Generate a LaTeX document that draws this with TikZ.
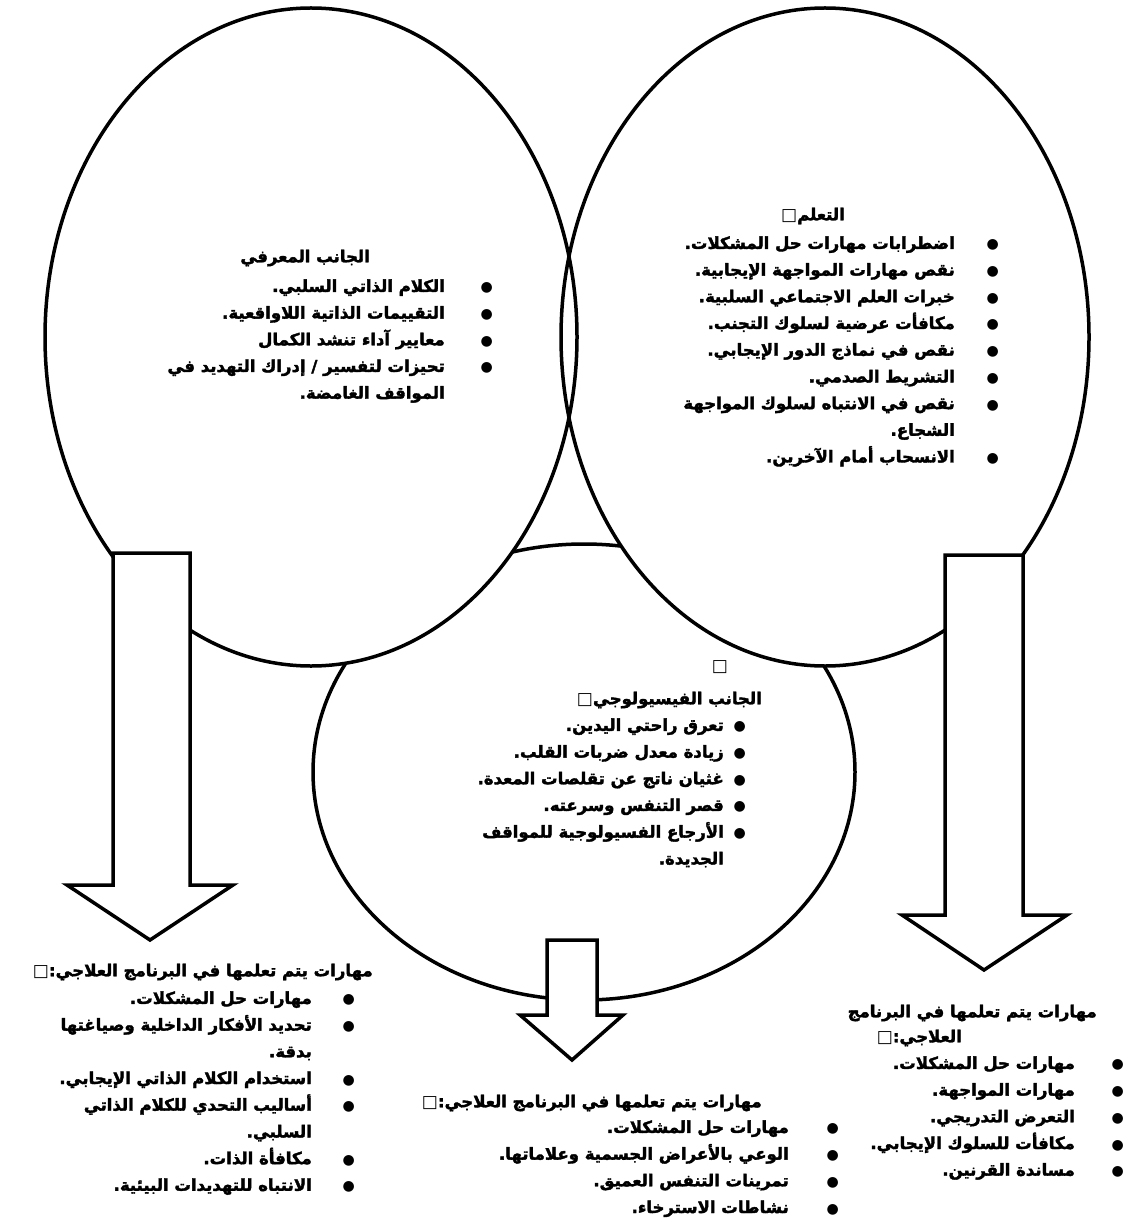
\documentclass[tikz,border=0pt]{standalone}
\usepackage{fontspec}
\TeXXeTstate=1
\newfontfamily\arabicfont[Script=Arabic, BoldFeatures={FakeBold=2.2}]{DejaVu Sans}
\newfontfamily\symfont{DejaVu Sans}
\usetikzlibrary{positioning}

\newcommand{\ar}[1]{\beginR #1\endR}
\newcommand{\tofu}{{\symfont\mdseries\fontsize{17}{27}\selectfont □}}
\newcommand{\dotmark}{\makebox[0pt]{\symfont\fontsize{14}{14}\selectfont ●}}

\begin{document}
\begin{tikzpicture}[x=1pt, y=-1pt,
  outline/.style={draw=black, line width=3.5pt, fill=white},
  txt/.style={font=\arabicfont\bfseries\fontsize{16.5}{26.7}\selectfont, inner sep=0pt},
  list/.style={txt, anchor=north east},
]
\useasboundingbox (0,0) rectangle (1130,1222);

% circles
\draw[outline] (584,772) ellipse [x radius=271, y radius=228];
\fill[white] (311,337) ellipse [x radius=266, y radius=329];
\fill[white] (825,337) ellipse [x radius=264, y radius=329];
\draw[outline, fill=none] (311,337) ellipse [x radius=266, y radius=329];
\draw[outline, fill=none] (825,337) ellipse [x radius=264, y radius=329];

% block arrows
\draw[outline] (113,553) -- (190,553) -- (190,885) -- (233,885) -- (150,940) -- (67,885) -- (113,885) -- cycle;
\draw[outline] (945,555) -- (1023,555) -- (1023,915) -- (1067,915) -- (984,970) -- (902,915) -- (945,915) -- cycle;
\draw[outline] (547,940) -- (597,940) -- (597,1015) -- (623,1015) -- (572,1060) -- (520,1015) -- (547,1015) -- cycle;

% left: cognitive side
\node[txt, anchor=east] (cogtitle) at (370,258) {\ar{الجانب المعرفي}};
\node[list] (coglist) at (487,273) {\begin{tabular}{@{}r@{\hspace{42pt}}l@{}}
\ar{الكلام الذاتي السلبي.} & \dotmark \\
\ar{التقييمات الذاتية اللاواقعية.} & \dotmark \\
\ar{معايير آداء تنشد الكمال} & \dotmark \\
\ar{تحيزات لتفسير / إدراك التهديد في} & \dotmark \\
\ar{المواقف الغامضة.} & \\
\end{tabular}};

% right: learning side
\node[txt, anchor=east] (learntitle) at (845,216) {\tofu\ar{التعلم}};
\node[list] (learnlist) at (993,230) {\begin{tabular}{@{}r@{\hspace{38pt}}l@{}}
\ar{اضطرابات مهارات حل المشكلات.} & \dotmark \\
\ar{نقص مهارات المواجهة الإيجابية.} & \dotmark \\
\ar{خبرات العلم الاجتماعي السلبية.} & \dotmark \\
\ar{مكافأت عرضية لسلوك التجنب.} & \dotmark \\
\ar{نقص في نماذج الدور الإيجابي.} & \dotmark \\
\ar{التشريط الصدمي.} & \dotmark \\
\ar{نقص في الانتباه لسلوك المواجهة} & \dotmark \\
\ar{الشجاع.} & \\
\ar{الانسحاب أمام الآخرين.} & \dotmark \\
\end{tabular}};

% centre: physiological side
\node[txt] (physmark) at (720,667) {\tofu};
\node[txt, anchor=east] (phystitle) at (762,700) {\tofu\ar{الجانب الفيسيولوجي}};
\node[list] (physlist) at (740,712) {\begin{tabular}{@{}r@{\hspace{16pt}}l@{}}
\ar{تعرق راحتي اليدين.} & \dotmark \\
\ar{زيادة معدل ضربات القلب.} & \dotmark \\
\ar{غثيان ناتج عن تقلصات المعدة.} & \dotmark \\
\ar{قصر التنفس وسرعته.} & \dotmark \\
\ar{الأرجاع الفسيولوجية للمواقف} & \dotmark \\
\ar{الجديدة.} & \\
\end{tabular}};

% skills learnt in the programme
\node[txt, anchor=east] (cogskilltitle) at (373,972) {\tofu\ar{مهارات يتم تعلمها في البرنامج العلاجي:}};
\node[list] (cogskills) at (349,985) {\begin{tabular}{@{}r@{\hspace{37pt}}l@{}}
\ar{مهارات حل المشكلات.} & \dotmark \\
\ar{تحديد الأفكار الداخلية وصياغتها} & \dotmark \\
\ar{بدقة.} & \\
\ar{استخدام الكلام الذاتي الإيجابي.} & \dotmark \\
\ar{أساليب التحدي للكلام الذاتي} & \dotmark \\
\ar{السلبي.} & \\
\ar{مكافأة الذات.} & \dotmark \\
\ar{الانتباه للتهديدات البيئية.} & \dotmark \\
\end{tabular}};

\node[txt, anchor=east] (physskilltitle) at (762,1103) {\tofu\ar{مهارات يتم تعلمها في البرنامج العلاجي:}};
\node[list] (physskills) at (833,1114) {\begin{tabular}{@{}r@{\hspace{44pt}}l@{}}
\ar{مهارات حل المشكلات.} & \dotmark \\
\ar{الوعي بالأعراض الجسمية وعلاماتها.} & \dotmark \\
\ar{تمرينات التنفس العميق.} & \dotmark \\
\ar{نشاطات الاسترخاء.} & \dotmark \\
\end{tabular}};

\node[txt, anchor=east] (learnskilltitle) at (1097,1013) {\ar{مهارات يتم تعلمها في البرنامج}};
\node[txt, anchor=east] (learnskilltail) at (962,1038) {\tofu\ar{العلاجي:}};
\node[list] (learnskills) at (1118,1050) {\begin{tabular}{@{}r@{\hspace{43pt}}l@{}}
\ar{مهارات حل المشكلات.} & \dotmark \\
\ar{مهارات المواجهة.} & \dotmark \\
\ar{التعرض التدريجي.} & \dotmark \\
\ar{مكافأت للسلوك الإيجابي.} & \dotmark \\
\ar{مساندة القرنين.} & \dotmark \\
\end{tabular}};

\end{tikzpicture}
\end{document}
